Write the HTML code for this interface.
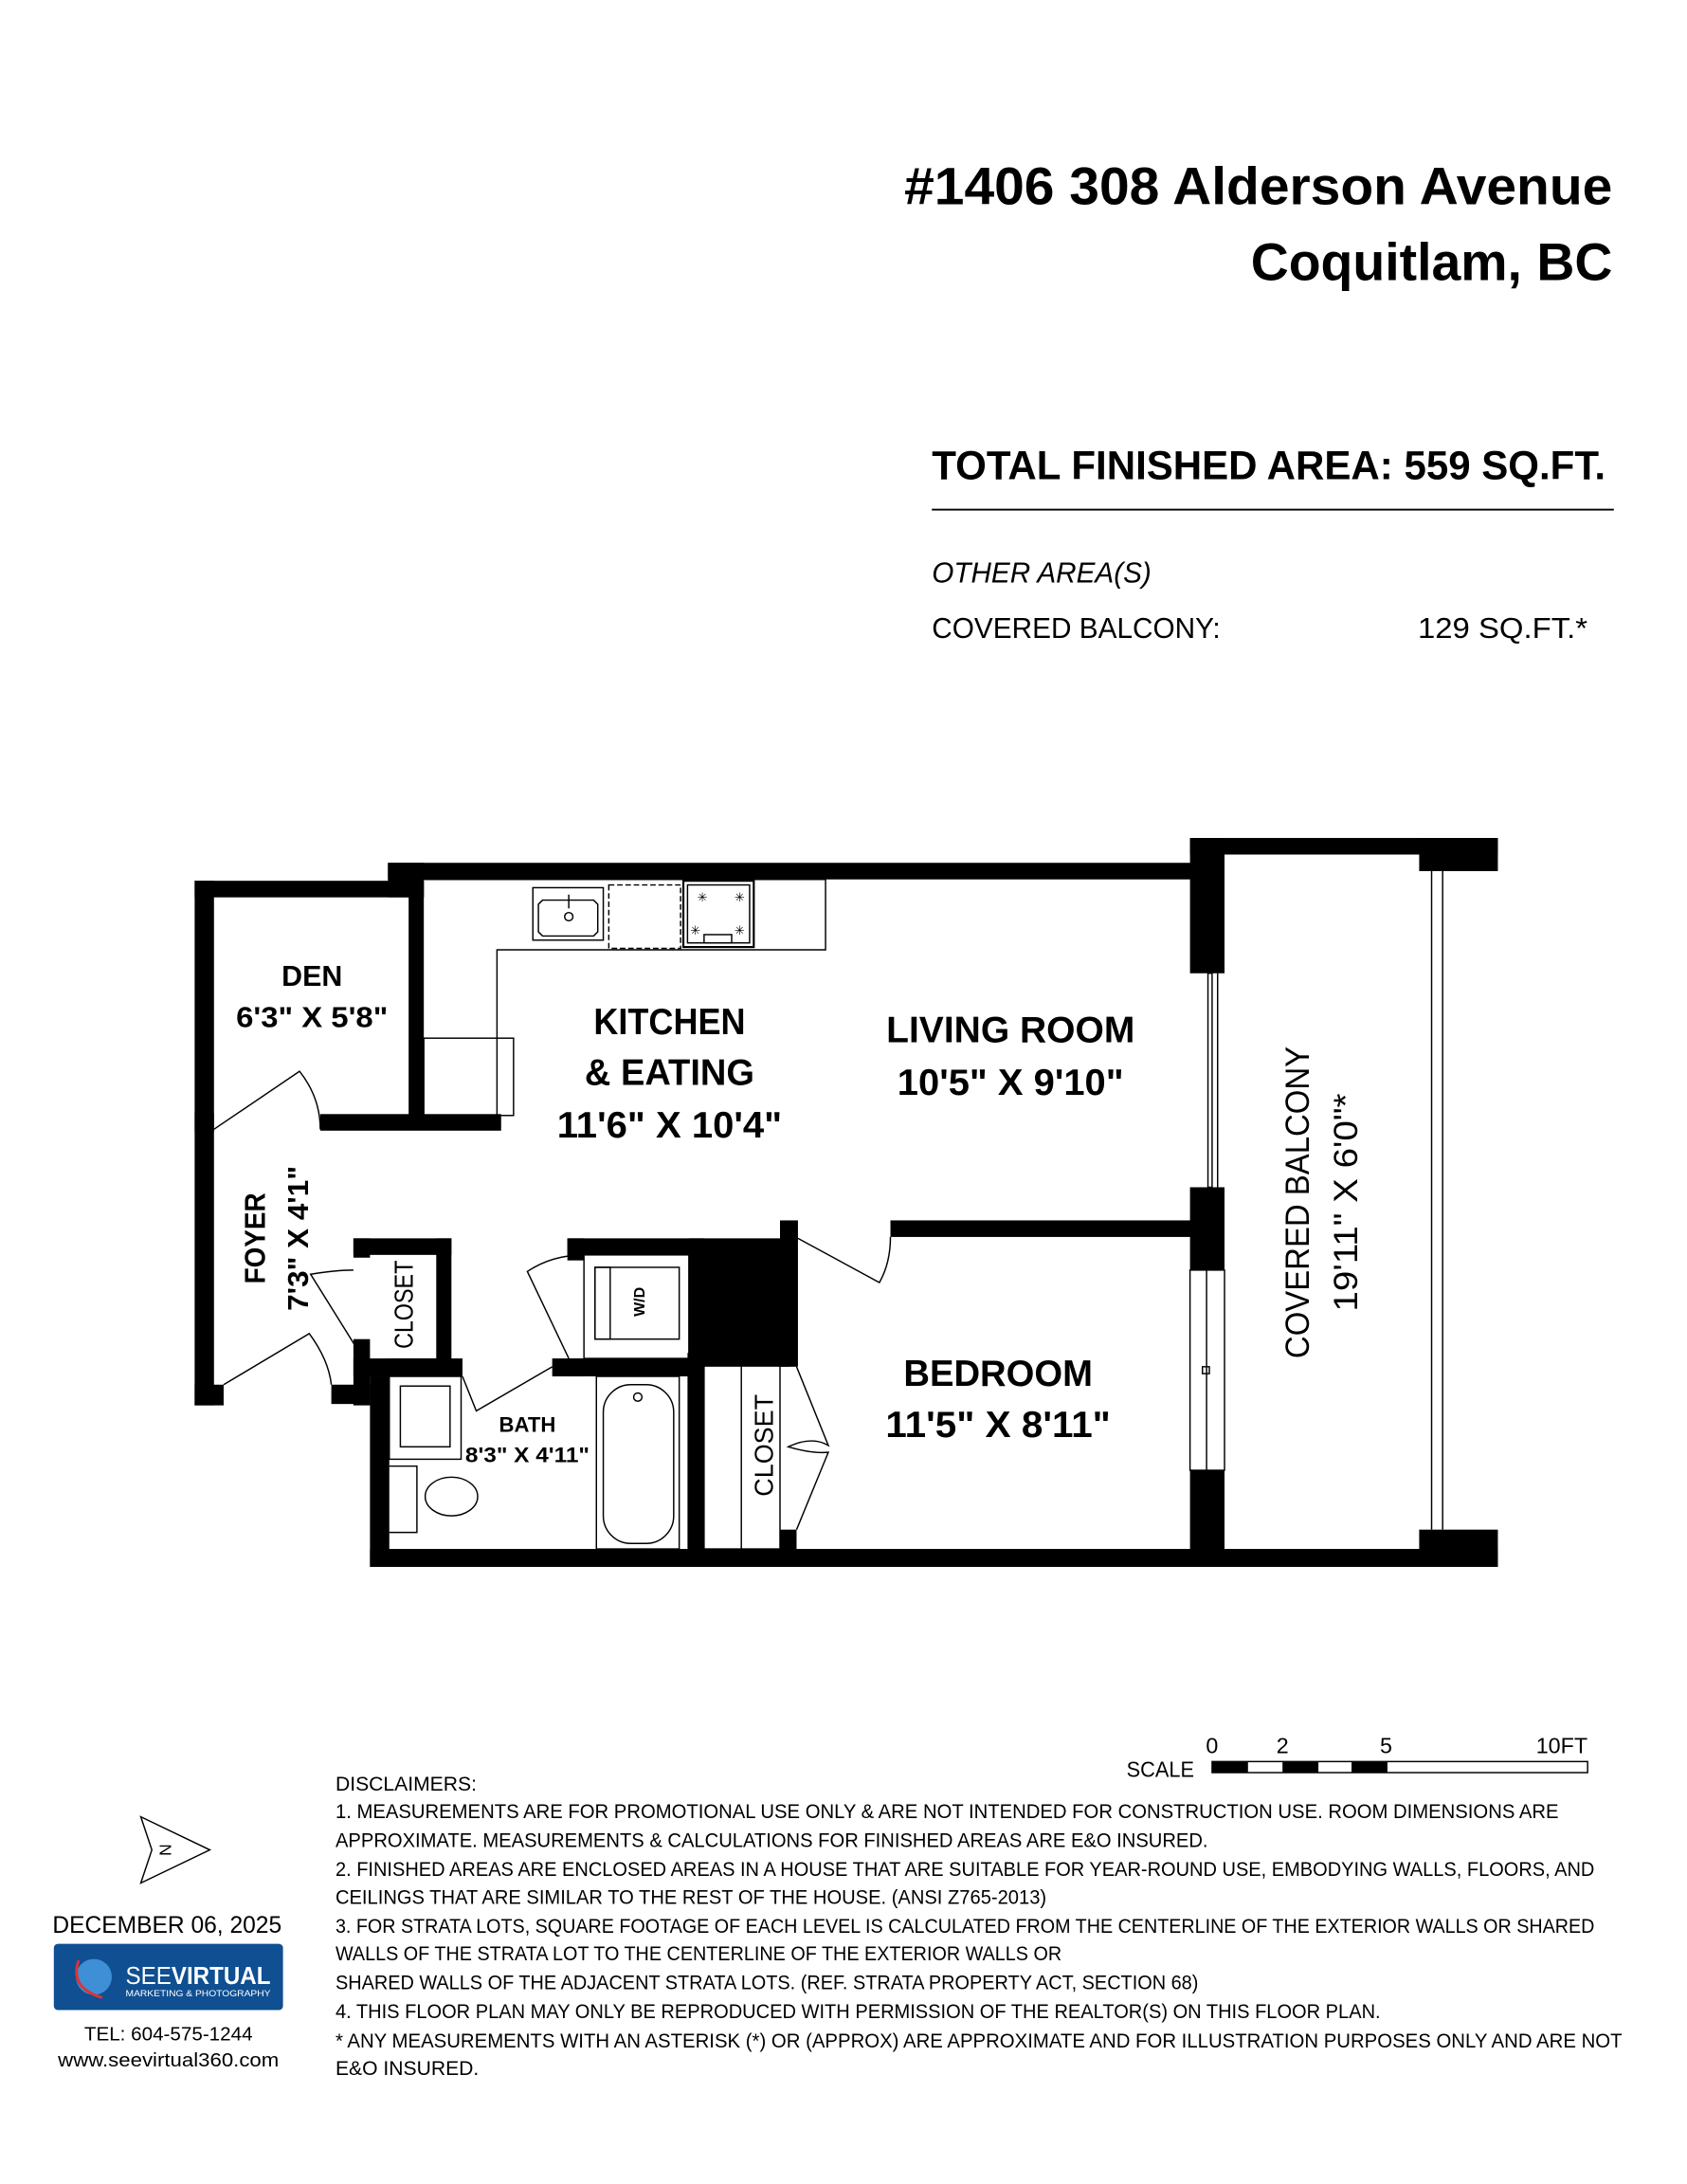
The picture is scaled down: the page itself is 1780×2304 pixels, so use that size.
<!DOCTYPE html>
<html><head><meta charset="utf-8"><style>
html,body{margin:0;padding:0;background:#fff;}
svg{display:block;}
text{font-family:"Liberation Sans",sans-serif;fill:#000;}
</style></head><body>
<svg width="1780" height="2304" viewBox="0 0 1222 1582" preserveAspectRatio="none" xmlns="http://www.w3.org/2000/svg">
<rect width="1222" height="1582" fill="#fff"/>
<!-- Header -->
<text x="1168" y="148" text-anchor="end" font-size="38" font-weight="bold" textLength="513" lengthAdjust="spacingAndGlyphs">#1406 308 Alderson Avenue</text>
<text x="1168" y="203" text-anchor="end" font-size="38" font-weight="bold" textLength="262" lengthAdjust="spacingAndGlyphs">Coquitlam, BC</text>
<text x="675" y="347" font-size="29" font-weight="bold" textLength="488" lengthAdjust="spacingAndGlyphs">TOTAL FINISHED AREA:  559 SQ.FT.</text>
<rect x="675" y="368.5" width="494" height="1.3" fill="#000"/>
<text x="675" y="422" font-size="21" font-style="italic" textLength="159" lengthAdjust="spacingAndGlyphs">OTHER AREA(S)</text>
<text x="675" y="462" font-size="21" textLength="209" lengthAdjust="spacingAndGlyphs">COVERED BALCONY:</text>
<text x="1027" y="462" font-size="21" textLength="123" lengthAdjust="spacingAndGlyphs">129  SQ.FT.*</text>

<!-- Floor plan walls -->
<g fill="#000">
<rect x="281" y="625" width="590" height="12"/>
<rect x="281" y="625" width="26" height="25"/>
<rect x="141" y="638" width="166" height="12"/>
<rect x="141" y="638" width="14" height="380"/>
<rect x="296" y="638" width="11" height="180"/>
<rect x="232" y="807" width="131" height="12"/>
<rect x="141" y="806" width="14" height="14"/>
<rect x="141" y="1003" width="21" height="15"/>
<rect x="240" y="1003" width="28" height="14"/>
<rect x="256" y="897" width="71" height="12"/>
<rect x="256" y="897" width="12" height="14"/>
<rect x="316" y="897" width="11" height="100"/>
<rect x="256" y="984" width="71" height="13"/>
<rect x="256" y="970" width="12" height="48"/>
<rect x="268" y="997" width="14" height="138"/>
<rect x="282" y="984" width="53" height="13"/>
<rect x="400" y="984" width="110" height="13"/>
<rect x="411" y="897" width="99" height="12"/>
<rect x="411" y="897" width="12" height="16"/>
<rect x="411" y="984" width="12" height="13"/>
<rect x="499" y="897" width="73" height="93"/>
<rect x="565" y="884" width="13" height="106"/>
<rect x="498" y="980" width="12" height="155"/>
<rect x="565" y="1108" width="12" height="27"/>
<rect x="645" y="884" width="226" height="12"/>
<rect x="268" y="1122" width="817" height="13"/>
<rect x="862" y="607" width="223" height="12"/>
<rect x="862" y="607" width="25" height="98"/>
<rect x="1028" y="607" width="57" height="24"/>
<rect x="862" y="860" width="25" height="60"/>
<rect x="862" y="1065" width="25" height="70"/>
<rect x="1028" y="1108" width="57" height="27"/>
</g>
<g fill="none" stroke="#000" stroke-width="1">
<rect x="875" y="705" width="3" height="155"/>
<line x1="882" y1="705" x2="882" y2="860"/>
<rect x="862" y="920" width="25" height="145"/>
<line x1="874" y1="920" x2="874" y2="1065"/>
<rect x="871" y="990" width="5" height="5"/>
<line x1="1037" y1="631" x2="1037" y2="1108"/>
<line x1="1045" y1="631" x2="1045" y2="1108"/>
<polyline points="307,637 598,637 598,688 360,688 360,752"/>
<rect x="386" y="643" width="51" height="38"/>
<path d="M390 655 L393 652 L430 652 L433 655 L433 675 L430 678 L393 678 L390 675 Z"/>
<circle cx="412" cy="664" r="3"/>
<line x1="412" y1="648" x2="412" y2="658"/>
<rect x="441" y="641" width="52" height="46" stroke-dasharray="4,2"/>
<rect x="495" y="638" width="51" height="48" stroke-width="1.5"/>
<rect x="498" y="641" width="45" height="42"/>
<rect x="510" y="677" width="20" height="6"/>
<rect x="307" y="752" width="65" height="56"/>
<line x1="360" y1="752" x2="360" y2="808"/>
<path d="M155 818 L217 776 Q232 795 232 818"/>
<path d="M162 1003 L224 966 Q238 985 240 1003"/>
<path d="M256 920 Q243 920 225 923 L263 984"/>
<path d="M335 997 L345 1022 L400 990"/>
<path d="M423 909 Q400 909 382 921 L412 984"/>
<path d="M578 897 L637 929 Q645 915 645 896"/>
<path d="M577 990 L600 1047 Q588 1040 571 1048 Q588 1053 600 1052 L577 1108"/>
<rect x="423" y="909" width="76" height="75"/>
<rect x="431" y="918" width="61" height="52"/>
<rect x="431" y="918" width="11" height="52"/>
<rect x="282" y="997" width="52" height="60"/>
<rect x="290" y="1004" width="36" height="44"/>
<rect x="432" y="997" width="60" height="125"/>
<rect x="437" y="1003" width="51" height="115" rx="20"/>
<circle cx="462" cy="1012" r="3"/>
<ellipse cx="327" cy="1084" rx="19" ry="14"/>
<polyline points="282,1062 302,1062 302,1110 282,1110"/>
<rect x="510" y="980" width="55" height="142"/>
<line x1="537" y1="980" x2="537" y2="1122"/>
</g>
<g font-family="Liberation Sans" font-size="9" fill="#000">
<text x="505" y="653">✳</text><text x="532" y="653">✳</text>
<text x="500" y="677">✳</text><text x="532" y="677">✳</text>
</g>

<g font-weight="bold" text-anchor="middle">
<text x="226" y="714" font-size="21" textLength="44" lengthAdjust="spacingAndGlyphs">DEN</text>
<text x="226" y="744" font-size="21" textLength="110" lengthAdjust="spacingAndGlyphs">6'3" X 5'8"</text>
<text x="485" y="749" font-size="27" textLength="110" lengthAdjust="spacingAndGlyphs">KITCHEN</text>
<text x="485" y="786" font-size="27" textLength="123" lengthAdjust="spacingAndGlyphs">&amp; EATING</text>
<text x="485" y="824" font-size="27" textLength="163" lengthAdjust="spacingAndGlyphs">11'6" X 10'4"</text>
<text x="732" y="755" font-size="27" textLength="180" lengthAdjust="spacingAndGlyphs">LIVING ROOM</text>
<text x="732" y="793" font-size="27" textLength="164" lengthAdjust="spacingAndGlyphs">10'5" X 9'10"</text>
<text x="723" y="1004" font-size="27" textLength="137" lengthAdjust="spacingAndGlyphs">BEDROOM</text>
<text x="723" y="1041" font-size="27" textLength="163" lengthAdjust="spacingAndGlyphs">11'5" X 8'11"</text>
<text x="382" y="1037" font-size="15" textLength="41" lengthAdjust="spacingAndGlyphs">BATH</text>
<text x="382" y="1059" font-size="15" textLength="90" lengthAdjust="spacingAndGlyphs">8'3" X 4'11"</text>
<text transform="translate(192,897) rotate(-90)" font-size="21" textLength="66" lengthAdjust="spacingAndGlyphs">FOYER</text>
<text transform="translate(223,897) rotate(-90)" font-size="21" textLength="105" lengthAdjust="spacingAndGlyphs">7'3" X 4'1"</text>
</g>
<g text-anchor="middle">
<text transform="translate(299,945) rotate(-90)" font-size="19" textLength="64" lengthAdjust="spacingAndGlyphs">CLOSET</text>
<text transform="translate(560,1047) rotate(-90)" font-size="19" textLength="74" lengthAdjust="spacingAndGlyphs">CLOSET</text>
<text transform="translate(467,943) rotate(-90)" font-size="11" font-weight="bold">W/D</text>
<text transform="translate(948,871) rotate(-90)" font-size="24" textLength="226" lengthAdjust="spacingAndGlyphs">COVERED BALCONY</text>
<text transform="translate(983,871) rotate(-90)" font-size="24" textLength="158" lengthAdjust="spacingAndGlyphs">19'11" X 6'0"*</text>
</g>

<text x="816" y="1287" font-size="16" textLength="49" lengthAdjust="spacingAndGlyphs">SCALE</text>
<text x="878" y="1270" font-size="16" text-anchor="middle">0</text>
<text x="929" y="1270" font-size="16" text-anchor="middle">2</text>
<text x="1004" y="1270" font-size="16" text-anchor="middle">5</text>
<text x="1150" y="1270" font-size="16" text-anchor="end">10FT</text>
<rect x="878" y="1276" width="272" height="8" fill="#fff" stroke="#000" stroke-width="1"/>
<rect x="878" y="1276" width="26" height="8" fill="#000"/>
<rect x="929" y="1276" width="26" height="8" fill="#000"/>
<rect x="979" y="1276" width="26" height="8" fill="#000"/>

<g font-size="14.5">
<text x="243" y="1297">DISCLAIMERS:</text>
<text x="243" y="1317" textLength="886" lengthAdjust="spacingAndGlyphs">1. MEASUREMENTS ARE FOR PROMOTIONAL USE ONLY &amp; ARE NOT INTENDED FOR CONSTRUCTION USE. ROOM DIMENSIONS ARE</text>
<text x="243" y="1338" textLength="632" lengthAdjust="spacingAndGlyphs">APPROXIMATE. MEASUREMENTS &amp; CALCULATIONS FOR FINISHED AREAS ARE E&amp;O INSURED.</text>
<text x="243" y="1359" textLength="912" lengthAdjust="spacingAndGlyphs">2. FINISHED AREAS ARE ENCLOSED AREAS IN A HOUSE THAT ARE SUITABLE FOR YEAR-ROUND USE, EMBODYING WALLS, FLOORS, AND</text>
<text x="243" y="1379" textLength="515" lengthAdjust="spacingAndGlyphs">CEILINGS THAT ARE SIMILAR TO THE REST OF THE HOUSE. (ANSI Z765-2013)</text>
<text x="243" y="1400" textLength="912" lengthAdjust="spacingAndGlyphs">3. FOR STRATA LOTS, SQUARE FOOTAGE OF EACH LEVEL IS CALCULATED FROM THE CENTERLINE OF THE EXTERIOR WALLS OR SHARED</text>
<text x="243" y="1420" textLength="526" lengthAdjust="spacingAndGlyphs">WALLS OF THE STRATA LOT TO THE CENTERLINE OF THE EXTERIOR WALLS OR</text>
<text x="243" y="1441" textLength="625" lengthAdjust="spacingAndGlyphs">SHARED WALLS OF THE ADJACENT STRATA LOTS. (REF. STRATA PROPERTY ACT, SECTION 68)</text>
<text x="243" y="1462" textLength="757" lengthAdjust="spacingAndGlyphs">4. THIS FLOOR PLAN MAY ONLY BE REPRODUCED WITH PERMISSION OF THE REALTOR(S) ON THIS FLOOR PLAN.</text>
<text x="243" y="1483" textLength="932" lengthAdjust="spacingAndGlyphs">* ANY MEASUREMENTS WITH AN ASTERISK (*) OR (APPROX) ARE APPROXIMATE AND FOR ILLUSTRATION PURPOSES ONLY AND ARE NOT</text>
<text x="243" y="1503">E&amp;O INSURED.</text>
</g>

<path d="M102 1316 L152 1340 L102 1364 L110 1340 Z" fill="none" stroke="#000" stroke-width="1"/>
<text transform="translate(124,1340) rotate(-90)" font-size="12" text-anchor="middle">N</text>

<text x="121" y="1400" font-size="17" text-anchor="middle" textLength="166" lengthAdjust="spacingAndGlyphs">DECEMBER 06, 2025</text>
<rect x="39" y="1408" width="166" height="48" rx="3" fill="#0f4f92"/>
<circle cx="68" cy="1432" r="13" fill="#3f8fd6"/>
<path d="M57 1420 Q50 1440 74 1447" fill="none" stroke="#d33" stroke-width="2"/>
<text x="91" y="1437" font-size="18" style="fill:#fff" textLength="105" lengthAdjust="spacingAndGlyphs">SEE<tspan font-weight="bold" style="fill:#fff">VIRTUAL</tspan></text>
<text x="91" y="1446" font-size="6" style="fill:#fff" textLength="105" lengthAdjust="spacingAndGlyphs">MARKETING &amp; PHOTOGRAPHY</text>
<text x="122" y="1478" font-size="14" text-anchor="middle" textLength="122" lengthAdjust="spacingAndGlyphs">TEL: 604-575-1244</text>
<text x="122" y="1497" font-size="14" text-anchor="middle" textLength="160" lengthAdjust="spacingAndGlyphs">www.seevirtual360.com</text>
</svg>
</body></html>
